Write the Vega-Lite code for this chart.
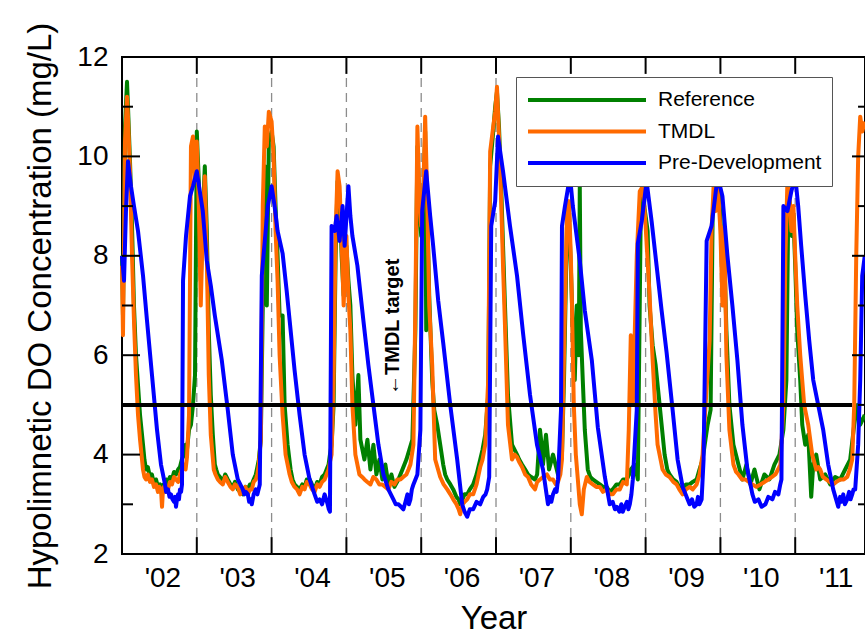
{
"$schema": "https://vega.github.io/schema/vega-lite/v6.json",
"width": 743, "height": 497,
"autosize": "none",
"padding": {"left": 122, "top": 57, "right": 0, "bottom": 89},
"background": "white",
"config": {"font": "Liberation Sans", "view": {"stroke": "black", "strokeWidth": 2}},
"datasets": {
"years": [{"t":2003},{"t":2004},{"t":2005},{"t":2006},{"t":2007},{"t":2008},{"t":2009},{"t":2010},{"t":2011}],
"yMajor": [{"v":4},{"v":6},{"v":8},{"v":10}],
"yMinor": [{"v":3},{"v":5},{"v":7},{"v":9},{"v":11}],
"target": [{"target":5}],
"pre": [
{"t":2002.000,"v":8.0},{"t":2002.027,"v":7.5},{"t":2002.053,"v":8.9},{"t":2002.080,"v":9.9},{"t":2002.120,"v":9.4},{"t":2002.160,"v":9.0},{"t":2002.214,"v":8.5},{"t":2002.281,"v":7.6},{"t":2002.334,"v":6.7},{"t":2002.401,"v":5.6},{"t":2002.468,"v":4.5},{"t":2002.521,"v":3.8},{"t":2002.575,"v":3.4},{"t":2002.590,"v":3.25},{"t":2002.615,"v":3.3},{"t":2002.635,"v":3.15},{"t":2002.655,"v":3.2},{"t":2002.675,"v":3.1},{"t":2002.695,"v":3.05},{"t":2002.710,"v":3.15},{"t":2002.722,"v":2.95},{"t":2002.735,"v":3.1},{"t":2002.749,"v":3.2},{"t":2002.762,"v":3.1},{"t":2002.775,"v":3.3},{"t":2002.790,"v":3.25},{"t":2002.802,"v":3.4},{"t":2002.816,"v":7.5},{"t":2002.856,"v":8.4},{"t":2002.909,"v":9.2},{"t":2002.949,"v":9.4},
{"t":2003.000,"v":9.7},{"t":2003.040,"v":9.3},{"t":2003.080,"v":8.9},{"t":2003.134,"v":7.9},{"t":2003.187,"v":7.4},{"t":2003.241,"v":6.8},{"t":2003.334,"v":5.9},{"t":2003.414,"v":4.9},{"t":2003.481,"v":4.0},{"t":2003.548,"v":3.5},{"t":2003.615,"v":3.3},{"t":2003.635,"v":3.2},{"t":2003.655,"v":3.25},{"t":2003.682,"v":3.2},{"t":2003.700,"v":3.05},{"t":2003.720,"v":3.1},{"t":2003.735,"v":3.0},{"t":2003.760,"v":3.2},{"t":2003.789,"v":3.3},{"t":2003.810,"v":3.2},{"t":2003.842,"v":3.4},{"t":2003.869,"v":7.6},{"t":2003.909,"v":8.3},{"t":2003.949,"v":9.0},
{"t":2004.000,"v":9.4},{"t":2004.040,"v":9.0},{"t":2004.080,"v":8.5},{"t":2004.147,"v":8.05},{"t":2004.201,"v":7.3},{"t":2004.241,"v":6.7},{"t":2004.307,"v":5.7},{"t":2004.374,"v":4.8},{"t":2004.441,"v":4.0},{"t":2004.508,"v":3.5},{"t":2004.575,"v":3.2},{"t":2004.610,"v":3.05},{"t":2004.642,"v":3.1},{"t":2004.675,"v":3.0},{"t":2004.709,"v":3.2},{"t":2004.730,"v":3.1},{"t":2004.749,"v":3.0},{"t":2004.765,"v":2.9},{"t":2004.780,"v":2.85},{"t":2004.802,"v":8.6},{"t":2004.842,"v":8.5},{"t":2004.869,"v":8.8},{"t":2004.909,"v":8.3},{"t":2004.949,"v":9.0},{"t":2004.976,"v":8.2},
{"t":2005.027,"v":9.4},{"t":2005.053,"v":8.8},{"t":2005.080,"v":8.4},{"t":2005.147,"v":7.8},{"t":2005.227,"v":6.7},{"t":2005.294,"v":5.8},{"t":2005.361,"v":5.0},{"t":2005.428,"v":4.2},{"t":2005.495,"v":3.6},{"t":2005.561,"v":3.3},{"t":2005.628,"v":3.1},{"t":2005.660,"v":3.0},{"t":2005.695,"v":3.0},{"t":2005.730,"v":2.95},{"t":2005.762,"v":2.9},{"t":2005.790,"v":3.05},{"t":2005.816,"v":3.2},{"t":2005.835,"v":3.0},{"t":2005.856,"v":3.1},{"t":2005.875,"v":3.3},{"t":2005.896,"v":3.4},{"t":2005.949,"v":3.6},{"t":2005.989,"v":4.5},
{"t":2006.013,"v":8.9},{"t":2006.067,"v":9.7},{"t":2006.120,"v":8.8},{"t":2006.160,"v":8.2},{"t":2006.227,"v":7.1},{"t":2006.294,"v":6.25},{"t":2006.388,"v":5.0},{"t":2006.481,"v":3.9},{"t":2006.548,"v":3.0},{"t":2006.580,"v":2.85},{"t":2006.615,"v":2.75},{"t":2006.650,"v":2.9},{"t":2006.695,"v":2.9},{"t":2006.740,"v":3.05},{"t":2006.789,"v":3.0},{"t":2006.830,"v":3.15},{"t":2006.860,"v":3.2},{"t":2006.882,"v":3.3},{"t":2006.909,"v":3.55},{"t":2006.936,"v":8.6},{"t":2006.989,"v":9.1},
{"t":2007.027,"v":10.4},{"t":2007.094,"v":9.7},{"t":2007.187,"v":8.6},{"t":2007.281,"v":7.6},{"t":2007.361,"v":6.45},{"t":2007.455,"v":5.2},{"t":2007.548,"v":4.2},{"t":2007.628,"v":3.7},{"t":2007.695,"v":3.0},{"t":2007.720,"v":3.15},{"t":2007.740,"v":3.05},{"t":2007.762,"v":3.2},{"t":2007.790,"v":3.3},{"t":2007.810,"v":3.25},{"t":2007.829,"v":3.5},{"t":2007.869,"v":4.9},{"t":2007.882,"v":8.6},{"t":2007.922,"v":9.0},{"t":2007.989,"v":9.6},
{"t":2008.027,"v":9.0},{"t":2008.120,"v":7.9},{"t":2008.187,"v":6.9},{"t":2008.281,"v":5.9},{"t":2008.361,"v":4.55},{"t":2008.455,"v":3.55},{"t":2008.521,"v":3.0},{"t":2008.560,"v":3.05},{"t":2008.590,"v":2.9},{"t":2008.615,"v":2.95},{"t":2008.650,"v":2.85},{"t":2008.675,"v":3.0},{"t":2008.695,"v":2.85},{"t":2008.720,"v":2.95},{"t":2008.750,"v":3.05},{"t":2008.770,"v":2.9},{"t":2008.789,"v":3.0},{"t":2008.810,"v":3.2},{"t":2008.829,"v":3.5},{"t":2008.882,"v":4.9},{"t":2008.896,"v":8.25},{"t":2008.949,"v":8.7},
{"t":2009.013,"v":9.5},{"t":2009.080,"v":8.7},{"t":2009.147,"v":7.8},{"t":2009.214,"v":6.9},{"t":2009.281,"v":6.05},{"t":2009.361,"v":4.9},{"t":2009.428,"v":3.9},{"t":2009.495,"v":3.35},{"t":2009.588,"v":3.0},{"t":2009.620,"v":3.1},{"t":2009.650,"v":2.95},{"t":2009.682,"v":3.0},{"t":2009.700,"v":3.15},{"t":2009.720,"v":3.0},{"t":2009.749,"v":3.1},{"t":2009.775,"v":3.9},{"t":2009.816,"v":8.3},{"t":2009.882,"v":8.6},{"t":2009.963,"v":9.6},
{"t":2010.027,"v":9.2},{"t":2010.094,"v":8.0},{"t":2010.160,"v":7.0},{"t":2010.227,"v":5.9},{"t":2010.294,"v":4.6},{"t":2010.361,"v":3.7},{"t":2010.428,"v":3.2},{"t":2010.460,"v":3.05},{"t":2010.508,"v":3.1},{"t":2010.550,"v":2.95},{"t":2010.602,"v":3.0},{"t":2010.640,"v":3.15},{"t":2010.695,"v":3.1},{"t":2010.730,"v":3.25},{"t":2010.775,"v":3.2},{"t":2010.800,"v":3.4},{"t":2010.816,"v":3.5},{"t":2010.842,"v":9.0},{"t":2010.896,"v":8.9},{"t":2010.949,"v":9.3},
{"t":2011.000,"v":9.6},{"t":2011.040,"v":9.0},{"t":2011.080,"v":8.2},{"t":2011.134,"v":7.2},{"t":2011.187,"v":6.3},{"t":2011.241,"v":5.5},{"t":2011.307,"v":5.0},{"t":2011.374,"v":4.5},{"t":2011.441,"v":3.8},{"t":2011.508,"v":3.3},{"t":2011.575,"v":2.95},{"t":2011.600,"v":3.15},{"t":2011.620,"v":3.05},{"t":2011.642,"v":3.2},{"t":2011.665,"v":3.0},{"t":2011.695,"v":3.1},{"t":2011.720,"v":3.25},{"t":2011.740,"v":3.1},{"t":2011.762,"v":3.2},{"t":2011.780,"v":3.3},{"t":2011.802,"v":3.3},{"t":2011.842,"v":4.2},{"t":2011.869,"v":5.5},{"t":2011.896,"v":7.6},{"t":2011.930,"v":8.0}
],
"tmdl": [
{"t":2002.000,"v":7.8},{"t":2002.013,"v":6.4},{"t":2002.027,"v":8.2},{"t":2002.040,"v":10.3},{"t":2002.067,"v":11.2},{"t":2002.080,"v":10.8},{"t":2002.107,"v":9.7},{"t":2002.134,"v":8.0},{"t":2002.160,"v":6.7},{"t":2002.187,"v":5.6},{"t":2002.214,"v":4.8},{"t":2002.241,"v":4.3},{"t":2002.281,"v":3.7},{"t":2002.300,"v":3.55},{"t":2002.321,"v":3.5},{"t":2002.345,"v":3.6},{"t":2002.374,"v":3.45},{"t":2002.400,"v":3.5},{"t":2002.428,"v":3.35},{"t":2002.455,"v":3.4},{"t":2002.481,"v":3.25},{"t":2002.500,"v":3.35},{"t":2002.521,"v":3.3},{"t":2002.535,"v":2.95},{"t":2002.548,"v":3.3},{"t":2002.561,"v":3.35},{"t":2002.590,"v":3.25},{"t":2002.615,"v":3.3},{"t":2002.640,"v":3.45},{"t":2002.668,"v":3.4},{"t":2002.695,"v":3.55},{"t":2002.722,"v":3.5},{"t":2002.750,"v":3.45},{"t":2002.775,"v":3.6},{"t":2002.800,"v":3.7},{"t":2002.829,"v":3.8},{"t":2002.850,"v":3.7},{"t":2002.869,"v":3.95},{"t":2002.896,"v":4.8},{"t":2002.922,"v":10.2},{"t":2002.949,"v":10.4},{"t":2002.976,"v":9.6},
{"t":2003.000,"v":10.3},{"t":2003.027,"v":9.0},{"t":2003.053,"v":7.0},{"t":2003.080,"v":8.6},{"t":2003.107,"v":9.6},{"t":2003.134,"v":8.0},{"t":2003.160,"v":5.6},{"t":2003.187,"v":4.4},{"t":2003.227,"v":3.7},{"t":2003.250,"v":3.6},{"t":2003.281,"v":3.5},{"t":2003.310,"v":3.45},{"t":2003.348,"v":3.4},{"t":2003.380,"v":3.55},{"t":2003.414,"v":3.45},{"t":2003.450,"v":3.35},{"t":2003.481,"v":3.3},{"t":2003.510,"v":3.4},{"t":2003.548,"v":3.35},{"t":2003.580,"v":3.2},{"t":2003.615,"v":3.25},{"t":2003.650,"v":3.35},{"t":2003.682,"v":3.2},{"t":2003.710,"v":3.3},{"t":2003.735,"v":3.3},{"t":2003.760,"v":3.45},{"t":2003.789,"v":3.5},{"t":2003.810,"v":3.6},{"t":2003.829,"v":3.8},{"t":2003.856,"v":4.3},{"t":2003.882,"v":9.0},{"t":2003.909,"v":10.6},{"t":2003.936,"v":10.2},{"t":2003.963,"v":10.9},
{"t":2004.000,"v":10.7},{"t":2004.027,"v":10.0},{"t":2004.053,"v":8.5},{"t":2004.080,"v":7.5},{"t":2004.107,"v":6.0},{"t":2004.147,"v":4.8},{"t":2004.187,"v":4.0},{"t":2004.241,"v":3.6},{"t":2004.270,"v":3.45},{"t":2004.307,"v":3.35},{"t":2004.340,"v":3.3},{"t":2004.374,"v":3.2},{"t":2004.410,"v":3.35},{"t":2004.441,"v":3.3},{"t":2004.470,"v":3.45},{"t":2004.508,"v":3.4},{"t":2004.540,"v":3.3},{"t":2004.575,"v":3.25},{"t":2004.610,"v":3.4},{"t":2004.642,"v":3.35},{"t":2004.675,"v":3.45},{"t":2004.709,"v":3.5},{"t":2004.735,"v":3.6},{"t":2004.762,"v":3.7},{"t":2004.780,"v":3.85},{"t":2004.802,"v":4.0},{"t":2004.829,"v":5.5},{"t":2004.856,"v":8.5},{"t":2004.882,"v":9.7},{"t":2004.909,"v":9.4},{"t":2004.936,"v":8.3},{"t":2004.963,"v":7.0},
{"t":2005.000,"v":8.4},{"t":2005.027,"v":7.2},{"t":2005.053,"v":6.5},{"t":2005.080,"v":5.0},{"t":2005.120,"v":4.0},{"t":2005.174,"v":3.6},{"t":2005.210,"v":3.55},{"t":2005.241,"v":3.5},{"t":2005.280,"v":3.45},{"t":2005.321,"v":3.4},{"t":2005.360,"v":3.55},{"t":2005.401,"v":3.5},{"t":2005.440,"v":3.4},{"t":2005.481,"v":3.4},{"t":2005.520,"v":3.35},{"t":2005.561,"v":3.3},{"t":2005.600,"v":3.45},{"t":2005.642,"v":3.4},{"t":2005.680,"v":3.5},{"t":2005.722,"v":3.5},{"t":2005.760,"v":3.55},{"t":2005.802,"v":3.6},{"t":2005.830,"v":3.7},{"t":2005.856,"v":3.8},{"t":2005.896,"v":4.2},{"t":2005.922,"v":7.0},{"t":2005.949,"v":10.6},{"t":2005.976,"v":9.2},
{"t":2006.000,"v":8.6},{"t":2006.027,"v":9.2},{"t":2006.053,"v":10.8},{"t":2006.080,"v":9.2},{"t":2006.107,"v":7.0},{"t":2006.147,"v":5.8},{"t":2006.187,"v":3.9},{"t":2006.254,"v":3.55},{"t":2006.300,"v":3.4},{"t":2006.348,"v":3.3},{"t":2006.390,"v":3.2},{"t":2006.428,"v":3.1},{"t":2006.470,"v":3.0},{"t":2006.500,"v":2.9},{"t":2006.521,"v":2.8},{"t":2006.550,"v":3.0},{"t":2006.580,"v":3.05},{"t":2006.615,"v":3.1},{"t":2006.650,"v":3.2},{"t":2006.695,"v":3.2},{"t":2006.740,"v":3.4},{"t":2006.789,"v":3.75},{"t":2006.820,"v":3.9},{"t":2006.856,"v":4.2},{"t":2006.896,"v":5.5},{"t":2006.922,"v":10.1},{"t":2006.963,"v":10.6},{"t":2006.989,"v":10.9},
{"t":2007.013,"v":11.4},{"t":2007.040,"v":10.4},{"t":2007.067,"v":9.2},{"t":2007.094,"v":7.8},{"t":2007.120,"v":6.6},{"t":2007.160,"v":4.6},{"t":2007.214,"v":3.9},{"t":2007.250,"v":4.0},{"t":2007.281,"v":3.95},{"t":2007.310,"v":3.85},{"t":2007.348,"v":3.75},{"t":2007.390,"v":3.6},{"t":2007.428,"v":3.55},{"t":2007.470,"v":3.4},{"t":2007.521,"v":3.3},{"t":2007.550,"v":3.45},{"t":2007.588,"v":3.5},{"t":2007.630,"v":3.55},{"t":2007.682,"v":3.6},{"t":2007.720,"v":3.5},{"t":2007.762,"v":3.5},{"t":2007.800,"v":3.4},{"t":2007.829,"v":3.45},{"t":2007.860,"v":3.6},{"t":2007.882,"v":3.9},{"t":2007.909,"v":6.0},{"t":2007.949,"v":8.9},{"t":2007.976,"v":9.1},
{"t":2008.000,"v":8.0},{"t":2008.013,"v":7.2},{"t":2008.040,"v":5.0},{"t":2008.067,"v":4.0},{"t":2008.094,"v":3.5},{"t":2008.120,"v":3.0},{"t":2008.147,"v":2.8},{"t":2008.174,"v":3.3},{"t":2008.214,"v":3.55},{"t":2008.250,"v":3.45},{"t":2008.294,"v":3.4},{"t":2008.340,"v":3.35},{"t":2008.388,"v":3.35},{"t":2008.430,"v":3.25},{"t":2008.481,"v":3.3},{"t":2008.520,"v":3.2},{"t":2008.561,"v":3.2},{"t":2008.610,"v":3.3},{"t":2008.655,"v":3.3},{"t":2008.700,"v":3.45},{"t":2008.749,"v":3.4},{"t":2008.775,"v":4.5},{"t":2008.802,"v":6.4},{"t":2008.829,"v":5.0},{"t":2008.856,"v":6.5},{"t":2008.882,"v":8.0},{"t":2008.922,"v":9.3},{"t":2008.963,"v":9.4},
{"t":2009.000,"v":8.6},{"t":2009.027,"v":7.9},{"t":2009.053,"v":7.2},{"t":2009.094,"v":5.9},{"t":2009.134,"v":4.8},{"t":2009.160,"v":4.2},{"t":2009.227,"v":3.7},{"t":2009.270,"v":3.6},{"t":2009.321,"v":3.55},{"t":2009.370,"v":3.45},{"t":2009.414,"v":3.4},{"t":2009.450,"v":3.3},{"t":2009.495,"v":3.2},{"t":2009.540,"v":3.3},{"t":2009.588,"v":3.35},{"t":2009.630,"v":3.3},{"t":2009.682,"v":3.4},{"t":2009.720,"v":3.6},{"t":2009.762,"v":4.0},{"t":2009.802,"v":5.0},{"t":2009.856,"v":6.3},{"t":2009.882,"v":8.5},{"t":2009.909,"v":9.4},{"t":2009.936,"v":8.9},{"t":2009.963,"v":9.5},
{"t":2010.000,"v":8.5},{"t":2010.027,"v":7.0},{"t":2010.053,"v":8.6},{"t":2010.080,"v":6.0},{"t":2010.120,"v":4.5},{"t":2010.174,"v":3.8},{"t":2010.210,"v":3.65},{"t":2010.241,"v":3.6},{"t":2010.290,"v":3.5},{"t":2010.334,"v":3.5},{"t":2010.380,"v":3.45},{"t":2010.428,"v":3.4},{"t":2010.480,"v":3.35},{"t":2010.535,"v":3.4},{"t":2010.590,"v":3.45},{"t":2010.642,"v":3.5},{"t":2010.690,"v":3.55},{"t":2010.735,"v":3.6},{"t":2010.770,"v":3.7},{"t":2010.802,"v":3.8},{"t":2010.842,"v":5.0},{"t":2010.869,"v":8.0},{"t":2010.896,"v":9.5},{"t":2010.922,"v":9.2},{"t":2010.949,"v":8.5},{"t":2010.976,"v":9.0},
{"t":2011.000,"v":8.0},{"t":2011.027,"v":7.0},{"t":2011.067,"v":6.0},{"t":2011.120,"v":5.0},{"t":2011.174,"v":4.6},{"t":2011.227,"v":4.0},{"t":2011.281,"v":3.7},{"t":2011.310,"v":3.75},{"t":2011.334,"v":3.7},{"t":2011.370,"v":3.55},{"t":2011.414,"v":3.5},{"t":2011.460,"v":3.45},{"t":2011.508,"v":3.4},{"t":2011.550,"v":3.45},{"t":2011.602,"v":3.5},{"t":2011.650,"v":3.5},{"t":2011.695,"v":3.55},{"t":2011.730,"v":3.7},{"t":2011.762,"v":3.9},{"t":2011.789,"v":5.0},{"t":2011.816,"v":8.0},{"t":2011.842,"v":10.0},{"t":2011.869,"v":10.8},{"t":2011.896,"v":10.5},{"t":2011.930,"v":10.7}
],
"ref": [
{"t":2002.000,"v":8.0},{"t":2002.013,"v":6.8},{"t":2002.027,"v":8.5},{"t":2002.040,"v":10.6},{"t":2002.067,"v":11.5},{"t":2002.080,"v":11.0},{"t":2002.107,"v":9.9},{"t":2002.134,"v":8.6},{"t":2002.160,"v":7.0},{"t":2002.187,"v":6.0},{"t":2002.214,"v":5.4},{"t":2002.241,"v":4.8},{"t":2002.281,"v":4.2},{"t":2002.300,"v":3.9},{"t":2002.321,"v":3.7},{"t":2002.345,"v":3.75},{"t":2002.374,"v":3.55},{"t":2002.400,"v":3.6},{"t":2002.428,"v":3.4},{"t":2002.455,"v":3.5},{"t":2002.481,"v":3.35},{"t":2002.510,"v":3.4},{"t":2002.535,"v":3.2},{"t":2002.555,"v":3.4},{"t":2002.575,"v":3.35},{"t":2002.595,"v":3.5},{"t":2002.615,"v":3.4},{"t":2002.640,"v":3.55},{"t":2002.668,"v":3.5},{"t":2002.695,"v":3.65},{"t":2002.722,"v":3.6},{"t":2002.750,"v":3.7},{"t":2002.775,"v":3.75},{"t":2002.800,"v":3.9},{"t":2002.829,"v":4.0},{"t":2002.850,"v":4.2},{"t":2002.869,"v":4.1},{"t":2002.896,"v":4.5},{"t":2002.922,"v":4.6},{"t":2002.949,"v":5.0},{"t":2002.976,"v":5.6},
{"t":2003.000,"v":10.5},{"t":2003.013,"v":10.0},{"t":2003.027,"v":9.5},{"t":2003.053,"v":7.5},{"t":2003.080,"v":8.8},{"t":2003.107,"v":9.8},{"t":2003.134,"v":8.5},{"t":2003.160,"v":6.5},{"t":2003.187,"v":5.2},{"t":2003.214,"v":4.4},{"t":2003.241,"v":3.8},{"t":2003.260,"v":3.7},{"t":2003.281,"v":3.6},{"t":2003.310,"v":3.55},{"t":2003.348,"v":3.45},{"t":2003.380,"v":3.6},{"t":2003.414,"v":3.5},{"t":2003.450,"v":3.4},{"t":2003.481,"v":3.35},{"t":2003.510,"v":3.45},{"t":2003.548,"v":3.3},{"t":2003.580,"v":3.25},{"t":2003.615,"v":3.2},{"t":2003.650,"v":3.35},{"t":2003.682,"v":3.3},{"t":2003.710,"v":3.4},{"t":2003.735,"v":3.4},{"t":2003.760,"v":3.5},{"t":2003.789,"v":3.6},{"t":2003.810,"v":3.75},{"t":2003.829,"v":3.9},{"t":2003.856,"v":4.3},{"t":2003.882,"v":7.0},{"t":2003.909,"v":9.8},{"t":2003.936,"v":7.0},{"t":2003.963,"v":10.3},
{"t":2004.000,"v":10.5},{"t":2004.027,"v":10.2},{"t":2004.053,"v":9.0},{"t":2004.080,"v":8.0},{"t":2004.107,"v":6.8},{"t":2004.147,"v":6.8},{"t":2004.174,"v":5.0},{"t":2004.214,"v":4.2},{"t":2004.254,"v":3.7},{"t":2004.280,"v":3.5},{"t":2004.307,"v":3.4},{"t":2004.340,"v":3.35},{"t":2004.374,"v":3.3},{"t":2004.410,"v":3.4},{"t":2004.441,"v":3.35},{"t":2004.470,"v":3.5},{"t":2004.508,"v":3.5},{"t":2004.540,"v":3.4},{"t":2004.575,"v":3.3},{"t":2004.610,"v":3.45},{"t":2004.642,"v":3.4},{"t":2004.675,"v":3.55},{"t":2004.709,"v":3.6},{"t":2004.735,"v":3.7},{"t":2004.762,"v":3.8},{"t":2004.780,"v":4.0},{"t":2004.802,"v":4.2},{"t":2004.829,"v":5.0},{"t":2004.856,"v":8.0},{"t":2004.882,"v":9.5},{"t":2004.909,"v":9.2},{"t":2004.936,"v":8.0},{"t":2004.963,"v":7.2},
{"t":2005.000,"v":8.2},{"t":2005.027,"v":7.5},{"t":2005.053,"v":7.0},{"t":2005.080,"v":5.6},{"t":2005.120,"v":4.6},{"t":2005.160,"v":5.6},{"t":2005.187,"v":4.3},{"t":2005.241,"v":3.9},{"t":2005.281,"v":4.3},{"t":2005.321,"v":3.7},{"t":2005.361,"v":4.2},{"t":2005.401,"v":3.6},{"t":2005.441,"v":3.9},{"t":2005.481,"v":3.5},{"t":2005.521,"v":3.8},{"t":2005.561,"v":3.4},{"t":2005.602,"v":3.6},{"t":2005.642,"v":3.35},{"t":2005.695,"v":3.5},{"t":2005.749,"v":3.7},{"t":2005.802,"v":3.9},{"t":2005.842,"v":4.1},{"t":2005.882,"v":4.3},{"t":2005.922,"v":6.5},{"t":2005.949,"v":10.2},{"t":2005.976,"v":9.0},
{"t":2006.000,"v":8.4},{"t":2006.027,"v":9.0},{"t":2006.053,"v":10.5},{"t":2006.067,"v":6.5},{"t":2006.080,"v":9.0},{"t":2006.107,"v":7.2},{"t":2006.147,"v":5.5},{"t":2006.174,"v":4.9},{"t":2006.214,"v":4.6},{"t":2006.254,"v":4.2},{"t":2006.294,"v":3.8},{"t":2006.320,"v":3.6},{"t":2006.348,"v":3.5},{"t":2006.390,"v":3.4},{"t":2006.428,"v":3.3},{"t":2006.470,"v":3.15},{"t":2006.500,"v":3.1},{"t":2006.521,"v":3.0},{"t":2006.550,"v":3.1},{"t":2006.580,"v":3.2},{"t":2006.615,"v":3.2},{"t":2006.650,"v":3.3},{"t":2006.695,"v":3.4},{"t":2006.740,"v":3.6},{"t":2006.789,"v":3.9},{"t":2006.820,"v":4.1},{"t":2006.856,"v":4.4},{"t":2006.896,"v":5.2},{"t":2006.922,"v":9.8},{"t":2006.963,"v":10.5},{"t":2006.989,"v":11.0},
{"t":2007.013,"v":11.3},{"t":2007.040,"v":10.6},{"t":2007.067,"v":9.5},{"t":2007.094,"v":8.2},{"t":2007.120,"v":7.0},{"t":2007.160,"v":5.2},{"t":2007.214,"v":4.2},{"t":2007.281,"v":4.0},{"t":2007.310,"v":3.9},{"t":2007.348,"v":3.8},{"t":2007.390,"v":3.7},{"t":2007.428,"v":3.6},{"t":2007.470,"v":3.55},{"t":2007.521,"v":3.5},{"t":2007.550,"v":3.6},{"t":2007.588,"v":4.5},{"t":2007.610,"v":4.2},{"t":2007.628,"v":3.8},{"t":2007.668,"v":4.4},{"t":2007.709,"v":3.7},{"t":2007.762,"v":4.0},{"t":2007.829,"v":3.6},{"t":2007.882,"v":4.0},{"t":2007.909,"v":5.5},{"t":2007.949,"v":8.6},{"t":2007.976,"v":8.8},
{"t":2008.000,"v":7.8},{"t":2008.027,"v":6.5},{"t":2008.053,"v":5.5},{"t":2008.080,"v":7.0},{"t":2008.107,"v":6.0},{"t":2008.120,"v":9.4},{"t":2008.134,"v":6.5},{"t":2008.160,"v":5.5},{"t":2008.187,"v":4.5},{"t":2008.227,"v":3.7},{"t":2008.260,"v":3.55},{"t":2008.294,"v":3.5},{"t":2008.340,"v":3.45},{"t":2008.388,"v":3.4},{"t":2008.430,"v":3.35},{"t":2008.481,"v":3.35},{"t":2008.520,"v":3.25},{"t":2008.561,"v":3.3},{"t":2008.610,"v":3.4},{"t":2008.655,"v":3.4},{"t":2008.700,"v":3.5},{"t":2008.749,"v":3.5},{"t":2008.780,"v":3.6},{"t":2008.802,"v":3.7},{"t":2008.856,"v":3.8},{"t":2008.896,"v":3.5},{"t":2008.936,"v":9.0},{"t":2008.963,"v":9.2},
{"t":2009.000,"v":8.8},{"t":2009.027,"v":8.5},{"t":2009.053,"v":7.0},{"t":2009.094,"v":6.2},{"t":2009.134,"v":5.8},{"t":2009.174,"v":5.2},{"t":2009.214,"v":4.6},{"t":2009.254,"v":4.0},{"t":2009.290,"v":3.7},{"t":2009.321,"v":3.6},{"t":2009.370,"v":3.5},{"t":2009.414,"v":3.45},{"t":2009.450,"v":3.35},{"t":2009.495,"v":3.3},{"t":2009.540,"v":3.4},{"t":2009.588,"v":3.4},{"t":2009.630,"v":3.45},{"t":2009.682,"v":3.5},{"t":2009.720,"v":3.7},{"t":2009.762,"v":3.9},{"t":2009.800,"v":4.3},{"t":2009.829,"v":4.6},{"t":2009.869,"v":4.9},{"t":2009.896,"v":8.8},{"t":2009.922,"v":9.2},{"t":2009.949,"v":9.0},{"t":2009.976,"v":9.3},
{"t":2010.000,"v":8.8},{"t":2010.027,"v":7.5},{"t":2010.053,"v":8.0},{"t":2010.080,"v":6.5},{"t":2010.120,"v":5.0},{"t":2010.174,"v":4.2},{"t":2010.241,"v":3.8},{"t":2010.294,"v":3.5},{"t":2010.348,"v":3.8},{"t":2010.401,"v":3.4},{"t":2010.455,"v":3.7},{"t":2010.521,"v":3.3},{"t":2010.588,"v":3.6},{"t":2010.655,"v":3.5},{"t":2010.722,"v":3.8},{"t":2010.789,"v":4.0},{"t":2010.842,"v":4.5},{"t":2010.882,"v":5.5},{"t":2010.909,"v":9.2},{"t":2010.935,"v":9.0},{"t":2010.955,"v":8.4},{"t":2010.976,"v":8.8},
{"t":2011.000,"v":7.8},{"t":2011.027,"v":6.5},{"t":2011.067,"v":5.5},{"t":2011.094,"v":4.6},{"t":2011.134,"v":4.2},{"t":2011.174,"v":4.4},{"t":2011.214,"v":3.15},{"t":2011.241,"v":3.8},{"t":2011.281,"v":4.0},{"t":2011.334,"v":3.5},{"t":2011.401,"v":3.6},{"t":2011.468,"v":3.4},{"t":2011.535,"v":3.55},{"t":2011.602,"v":3.5},{"t":2011.668,"v":3.7},{"t":2011.735,"v":3.9},{"t":2011.789,"v":4.6},{"t":2011.829,"v":5.0},{"t":2011.869,"v":4.6},{"t":2011.930,"v":4.8}
]
},
"layer": [
{
"data": {"name": "years"},
"mark": {"type": "rule", "color": "#8c8c8c", "strokeWidth": 1.3, "strokeDash": [9, 6]},
"encoding": {
"x": {"field": "t", "type": "quantitative", "scale": {"domain": [2002, 2011.933], "nice": false, "zero": false},
"axis": {"values": [2002.5, 2003.5, 2004.5, 2005.5, 2006.5, 2007.5, 2008.5, 2009.5, 2010.5, 2011.5], "labelExpr": "\"'\" + format(floor(datum.value) % 100, '02d')", "ticks": false, "domain": false, "grid": false, "labelFontSize": 28, "labelColor": "black", "labelPadding": 10, "labelOffset": 3, "title": "Year", "titleFontSize": 33, "titleFontWeight": "normal", "titleColor": "black", "titlePadding": 10}},
"y": {"datum": 2.34, "type": "quantitative", "scale": {"domain": [2, 12], "nice": false, "zero": false},
"axis": {"values": [2, 4, 6, 8, 10, 12], "ticks": false, "domain": false, "grid": false, "labelFontSize": 28, "labelColor": "black", "labelPadding": 14, "title": "Hypolimnetic DO Concentration (mg/L)", "titleFontSize": 33, "titleFontWeight": "normal", "titleColor": "black", "titlePadding": 19}},
"y2": {"datum": 11.66}
}
},
{
"data": {"name": "ref"},
"mark": {"type": "line", "strokeWidth": 4, "strokeJoin": "round"},
"encoding": {
"x": {"field": "t", "type": "quantitative"},
"y": {"field": "v", "type": "quantitative"},
"color": {"datum": "Reference", "type": "nominal",
"scale": {"domain": ["Reference", "TMDL", "Pre-Development"], "range": ["#008000", "#FF6A00", "#0000FF"]},
"legend": {"orient": "none", "legendX": 394, "legendY": 20, "title": null, "symbolType": "stroke", "symbolSize": 13924, "symbolStrokeWidth": 4, "labelFontSize": 21, "labelColor": "black", "labelLimit": 400, "fillColor": "white", "strokeColor": "#555555", "padding": 10, "clipHeight": 26, "rowPadding": 5.5, "labelOffset": 10}}
}
},
{
"data": {"name": "tmdl"},
"mark": {"type": "line", "strokeWidth": 4, "strokeJoin": "round"},
"encoding": {
"x": {"field": "t", "type": "quantitative"},
"y": {"field": "v", "type": "quantitative"},
"color": {"datum": "TMDL", "type": "nominal"}
}
},
{
"data": {"name": "pre"},
"mark": {"type": "line", "strokeWidth": 4, "strokeJoin": "round"},
"encoding": {
"x": {"field": "t", "type": "quantitative"},
"y": {"field": "v", "type": "quantitative"},
"color": {"datum": "Pre-Development", "type": "nominal"}
}
},
{
"data": {"name": "target"},
"mark": {"type": "rule", "color": "black", "strokeWidth": 4},
"encoding": {
"y": {"field": "target", "type": "quantitative"},
"x": {"datum": 2002, "type": "quantitative"},
"x2": {"datum": 2011.76}
}
},
{
"data": {"name": "years"},
"mark": {"type": "rule", "color": "black", "strokeWidth": 2},
"encoding": {"x": {"field": "t", "type": "quantitative"}, "y": {"datum": 2}, "y2": {"datum": 2.34}}
},
{
"data": {"name": "years"},
"mark": {"type": "rule", "color": "black", "strokeWidth": 2},
"encoding": {"x": {"field": "t", "type": "quantitative"}, "y": {"datum": 11.66}, "y2": {"datum": 12}}
},
{
"data": {"name": "yMajor"},
"mark": {"type": "rule", "color": "black", "strokeWidth": 2},
"encoding": {"y": {"field": "v", "type": "quantitative"}, "x": {"datum": 2002}, "x2": {"datum": 2002.241}}
},
{
"data": {"name": "yMinor"},
"mark": {"type": "rule", "color": "black", "strokeWidth": 2},
"encoding": {"y": {"field": "v", "type": "quantitative"}, "x": {"datum": 2002}, "x2": {"datum": 2002.147}}
},
{
"data": {"name": "yMajor"},
"mark": {"type": "rule", "color": "black", "strokeWidth": 2},
"encoding": {"y": {"field": "v", "type": "quantitative"}, "x": {"datum": 2011.759}, "x2": {"datum": 2011.94}}
},
{
"data": {"name": "yMinor"},
"mark": {"type": "rule", "color": "black", "strokeWidth": 2},
"encoding": {"y": {"field": "v", "type": "quantitative"}, "x": {"datum": 2011.84}, "x2": {"datum": 2011.94}}
},
{
"data": {"name": "target"},
"mark": {"type": "text", "angle": 270, "align": "left", "baseline": "middle", "fontSize": 20, "fontWeight": "bold", "color": "black"},
"encoding": {
"text": {"value": "←TMDL target"},
"x": {"datum": 2005.623, "type": "quantitative"},
"y": {"datum": 5.2, "type": "quantitative"}
}
}
]
}
